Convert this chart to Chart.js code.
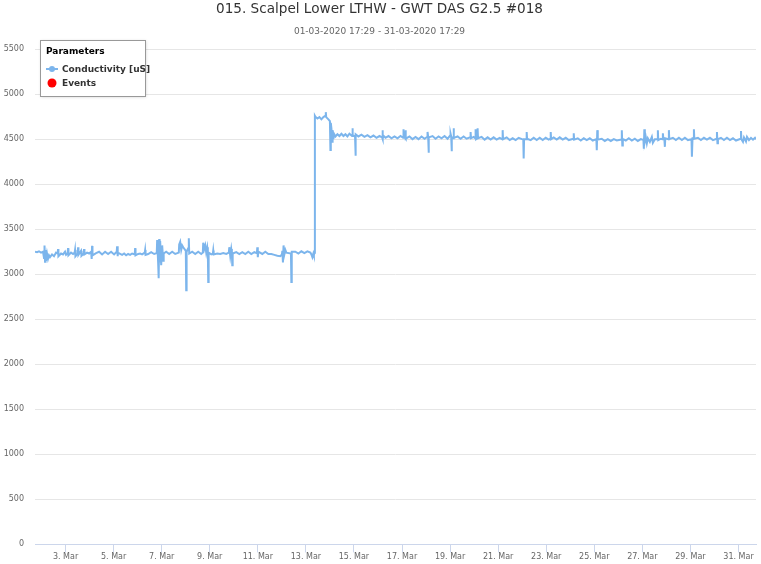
<!DOCTYPE html>
<html><head><meta charset="utf-8">
<script src="https://cdn.jsdelivr.net/npm/chart.js@4"></script>
<style>html,body{margin:0;padding:0;background:#fff}#wrap{width:761px;height:564px;position:relative}</style>
</head><body><div id="wrap"><canvas id="c" width="761" height="564"></canvas></div>
<script>
const chartTitle = "015. Scalpel Lower LTHW - GWT DAS G2.5 #018";
const chartSubtitle = "01-03-2020 17:29 - 31-03-2020 17:29";
const legendTitle = "Parameters";
const seriesName = "Conductivity [uS]";
const eventsName = "Events";
const monthLabel = "Mar";
const startTime = new Date(2020, 2, 1, 17, 29);
const rangeHours = 720;
const yTicks = [0, 500, 1000, 1500, 2000, 2500, 3000, 3500, 4000, 4500, 5000, 5500];
const xTickDays = [3, 5, 7, 9, 11, 13, 15, 17, 19, 21, 23, 25, 27, 29, 31];

// hours since start, before the step
const hoursA = [
  0,2,4,6,8,9,9.5,10,10.5,11,
  12,13,14,15,17,19,21,22.6,23,23.4,
  26,28,30,31,32.6,33,33.4,36,38,39.6,
  40,40.4,42.6,43,43.4,46,46.4,48.6,49,49.4,
  52,54,56,56.6,57,57.4,61,64,67,70,
  73,76,79,81.6,82,82.4,82.8,87,89,91,
  93,95,97,99.6,100,100.4,103,105,107,109.6,
  110,110.4,113,116,119,121.6,122,123,123.5,124,
  124.5,125,126,127,128,128.5,131,134,137,140,
  143.6,144,145,146,147,148,150.6,151,151.4,153,
  153.6,154,157,160,163,166,167.6,168,169,170,
  171,172,172.6,173,173.4,176,177.6,178,178.4,182,
  185,188,191,193.6,194,195,196,196.6,197,197.4,
  201,204,207,210,213,216,219,221.6,222,222.5,
  223,227,230,233,236,239,242,245,246.6,247,
  247.6,248.2,249,250,251,255.6,256,256.4,260,263,
  266,269,272,275,276,277,278,278.5,279,279.5
];
const conductivityA = [
  3250,3245,3255,3240,3250,3180,3320,3140,3270,3150,
  3230,3170,3210,3190,3220,3200,3240,3230,3280,3200,
  3230,3220,3250,3215,3230,3290,3210,3240,3225,3240,
  3270,3200,3230,3300,3215,3260,3205,3230,3280,3220,
  3240,3230,3250,3170,3315,3210,3235,3250,3220,3250,
  3225,3250,3220,3250,3310,3200,3240,3215,3230,3210,
  3225,3215,3230,3220,3290,3210,3225,3230,3220,3240,
  3270,3215,3225,3245,3225,3235,3380,3120,2955,3390,
  3130,3370,3100,3320,3150,3230,3250,3225,3250,3225,
  3240,3330,3360,3270,3320,3300,3260,2822,3250,3290,
  3400,3230,3250,3225,3250,3225,3240,3350,3280,3320,
  3240,3300,3240,2915,3240,3220,3230,3265,3220,3230,
  3225,3235,3225,3240,3300,3200,3280,3230,3100,3230,
  3245,3225,3245,3225,3250,3225,3245,3235,3300,3190,
  3250,3225,3250,3225,3225,3215,3205,3200,3220,3260,
  3130,3320,3220,3270,3240,3230,2915,3250,3250,3230,
  3255,3235,3255,3240,3220,3190,3230,3210,3240,4760
];
// hours since start, after the step
const hoursB = [
  280,282,284,286,288,290,290.4,290.8,293,294.5,
  295,295.4,296,296.6,297.2,298,298.6,300,302,304,
  306,308,310,312,314,316.6,317,317.4,319.6,320,
  320.4,323,326,329,332,335,338,341,344,346.6,
  347,347.4,347.8,350,353,356,359,362,365,367.6,
  368,368.6,369.6,370,370.4,374,377,380,383,386,
  389,391.6,392,392.6,393,393.4,397,400,403,406,
  409,412,414.6,415,415.6,416,416.4,417.6,418,418.4,
  422,425,428,431,434.6,435,435.4,438,439.6,440,
  440.5,441.5,442,442.4,446,449,452,455,458,461,
  464,466.6,467,467.4,471,474,477,480,483,487.6,
  488,488.4,490.6,491,491.4,495,498,501,504,507,
  510,513,514.6,515,515.4,518,521,524,527,530,
  533,537.6,538,538.4,542,545,548,551,554,557,
  560.6,561,561.5,562,566,569,572,575,578,581,
  585.6,586,586.5,587,590,593,596,599,602,605,
  607.6,608,608.5,609,610,611,612,614,616,617,
  619,621.6,622,622.4,625,626.6,627,627.5,628.5,629,
  629.4,632.6,633,633.4,637,640,643,646,649,652,
  655.6,656,656.6,657.6,658,658.4,662,665,668,671,
  674,677,680.6,681,681.5,682,685,688,691,694,
  697,700,704.6,705,705.4,707,708,710,711,713,
  715,717,719,720
];
const conductivityB = [
  4750,4730,4745,4720,4745,4760,4800,4745,4720,4700,
  4380,4680,4620,4470,4600,4500,4560,4530,4555,4535,
  4560,4535,4555,4530,4560,4535,4620,4545,4530,4315,
  4555,4530,4550,4525,4545,4520,4540,4515,4535,4520,
  4600,4500,4540,4515,4535,4510,4530,4510,4535,4515,
  4610,4520,4515,4600,4505,4530,4500,4525,4500,4530,
  4505,4525,4580,4530,4350,4520,4535,4505,4530,4510,
  4535,4505,4540,4560,4530,4365,4520,4510,4620,4515,
  4530,4505,4530,4505,4520,4580,4510,4525,4510,4610,
  4500,4510,4620,4510,4525,4495,4520,4495,4520,4495,
  4515,4500,4600,4500,4520,4490,4510,4490,4515,4495,
  4285,4500,4500,4580,4505,4490,4515,4490,4515,4490,
  4515,4495,4505,4580,4500,4520,4495,4520,4495,4515,
  4490,4505,4565,4495,4510,4485,4510,4490,4510,4485,
  4500,4378,4600,4495,4505,4480,4500,4480,4500,4485,
  4495,4600,4430,4500,4485,4510,4485,4505,4480,4500,
  4490,4395,4610,4470,4520,4455,4510,4470,4525,4460,
  4500,4500,4600,4490,4505,4500,4565,4500,4500,4415,
  4510,4500,4600,4500,4515,4490,4515,4490,4515,4490,
  4500,4305,4510,4510,4610,4505,4515,4490,4515,4495,
  4515,4490,4505,4580,4455,4500,4515,4490,4515,4490,
  4510,4485,4505,4590,4500,4470,4520,4475,4525,4490,
  4515,4495,4515,4500
];
const eventHours = [];
const eventValues = [];

const hours = hoursA.concat(hoursB);
const conductivity = conductivityA.concat(conductivityB);
const startDayFrac = (startTime.getDate() - 1) * 24 + startTime.getHours() + startTime.getMinutes() / 60;
const dayToHours = d => (d - 1) * 24 - startDayFrac;

const FONT = "'DejaVu Sans', sans-serif";

const legendPlugin = {
  id: 'boxLegend',
  afterDraw(chart) {
    const ctx = chart.ctx;
    const x = 40, y = 40, w = 105, h = 56;
    ctx.save();
    ctx.shadowColor = 'rgba(0,0,0,0.18)';
    ctx.shadowBlur = 3;
    ctx.shadowOffsetX = 1;
    ctx.shadowOffsetY = 1;
    ctx.fillStyle = '#ffffff';
    ctx.fillRect(x, y, w, h);
    ctx.restore();
    ctx.save();
    ctx.strokeStyle = '#999999';
    ctx.lineWidth = 1;
    ctx.strokeRect(x + 0.5, y + 0.5, w, h);
    ctx.fillStyle = '#000000';
    ctx.textBaseline = 'middle';
    ctx.font = "bold 9px " + FONT;
    ctx.fillText(legendTitle, 46, 51.5);
    const ds = chart.data.datasets;
    ctx.strokeStyle = ds[0].borderColor;
    ctx.lineWidth = 2;
    ctx.beginPath(); ctx.moveTo(46, 69); ctx.lineTo(58, 69); ctx.stroke();
    ctx.fillStyle = ds[0].borderColor;
    ctx.beginPath(); ctx.arc(52, 69, 3, 0, Math.PI * 2); ctx.fill();
    ctx.fillStyle = '#333333';
    ctx.font = "bold 9px " + FONT;
    ctx.fillText(ds[0].label, 62, 69.5);
    ctx.fillStyle = ds[1].pointBackgroundColor;
    ctx.beginPath(); ctx.arc(52, 83, 4.5, 0, Math.PI * 2); ctx.fill();
    ctx.fillStyle = '#333333';
    ctx.fillText(ds[1].label, 62, 83.5);
    ctx.restore();
  }
};

new Chart(document.getElementById('c'), {
  type: 'line',
  data: {
    datasets: [
      {
        label: seriesName,
        data: hours.map((hh, i) => ({ x: hh, y: conductivity[i] })),
        borderColor: '#7cb5ec',
        backgroundColor: '#7cb5ec',
        borderWidth: 2,
        pointRadius: 0,
        tension: 0,
        fill: false
      },
      {
        label: eventsName,
        data: eventHours.map((hh, i) => ({ x: hh, y: eventValues[i] })),
        showLine: false,
        pointRadius: 5,
        pointBackgroundColor: '#ff0000',
        borderColor: '#ff0000'
      }
    ]
  },
  options: {
    responsive: false,
    animation: false,
    devicePixelRatio: 1,
    layout: { padding: { left: 3, right: 5, top: 0, bottom: 2 } },
    plugins: {
      legend: { display: false },
      tooltip: { enabled: false },
      title: {
        display: true, text: chartTitle, color: '#333333',
        font: { family: FONT, size: 13.6, weight: 'normal' },
        padding: { top: 1.5, bottom: 6 }
      },
      subtitle: {
        display: true, text: chartSubtitle, color: '#666666',
        font: { family: FONT, size: 9, weight: 'normal' },
        padding: { top: 2, bottom: 12.5 }
      }
    },
    scales: {
      x: {
        type: 'linear',
        min: 0, max: rangeHours,
        afterBuildTicks: axis => { axis.ticks = xTickDays.map(d => ({ value: dayToHours(d) })); },
        ticks: {
          autoSkip: false, maxRotation: 0, color: '#666666', padding: 0,
          font: { family: FONT, size: 8 },
          callback: v => new Date(startTime.getTime() + v * 3600000).getDate() + '. ' + monthLabel
        },
        grid: { drawOnChartArea: false, drawTicks: true, tickLength: 8, color: '#ccd6eb' },
        border: { display: true, color: '#ccd6eb' }
      },
      y: {
        min: 0, max: 5500,
        afterBuildTicks: axis => { axis.ticks = yTicks.map(v => ({ value: v })); },
        afterFit: axis => { axis.width = 32; },
        ticks: { color: '#666666', padding: 11, font: { family: FONT, size: 8 }, callback: v => String(v) },
        grid: { color: '#e6e6e6', drawTicks: false },
        border: { display: false }
      }
    }
  },
  plugins: [legendPlugin]
});
</script>
</body></html>
